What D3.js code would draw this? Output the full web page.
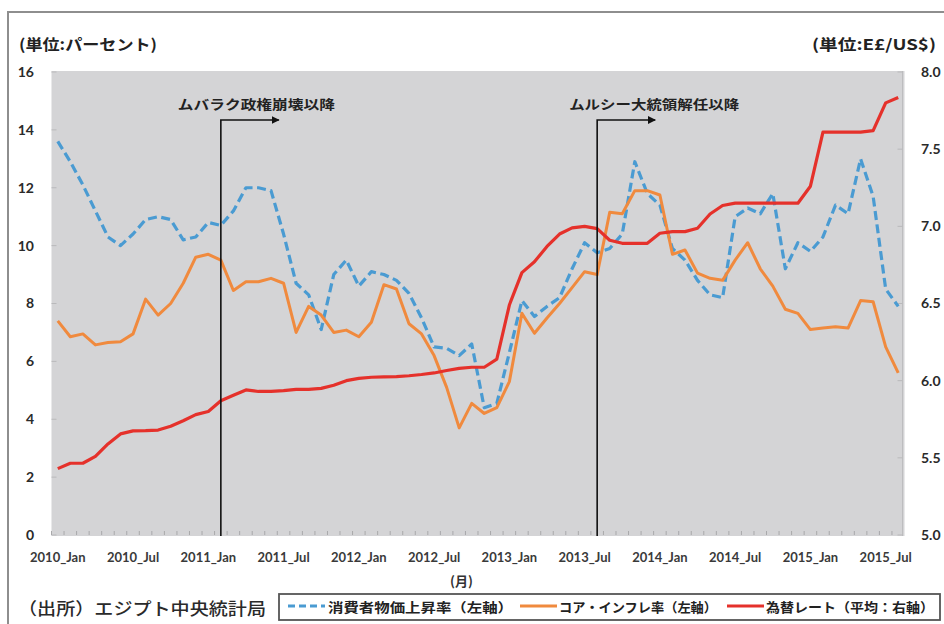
<!DOCTYPE html>
<html>
<head>
<meta charset="utf-8">
<script src="https://cdn.jsdelivr.net/npm/d3@7"></script>
<style>
  html, body { margin: 0; padding: 0; background: #ffffff; }
  svg { display: block; }
  .num { font-family: Lato, "Open Sans", "Liberation Sans", sans-serif; font-weight: 700; }
  .jp { font-family: "Noto Sans CJK JP", "Noto Sans", sans-serif; }
</style>
</head>
<body>
<svg id="chart" width="944" height="624"></svg>
<script>
// Monthly observations, January 2010 to August 2015
const years = [2010, 2011, 2012, 2013, 2014, 2015];
const monthNames = ["Jan","Feb","Mar","Apr","May","Jun","Jul","Aug","Sep","Oct","Nov","Dec"];
const months = [];
years.forEach(y => monthNames.forEach(m => months.push(y + "_" + m)));
months.length = 68; // series end in 2015_Aug

// Headline CPI inflation, % y/y (left axis)
const cpi = [
  13.6, 12.9, 12.1, 11.2, 10.3, 10.0, 10.4, 10.9, 11.0, 10.9, 10.2, 10.3,
  10.8, 10.7, 11.2, 12.0, 12.0, 11.9, 10.4, 8.7, 8.3, 7.1, 9.0, 9.5,
  8.6, 9.1, 9.0, 8.8, 8.35, 7.5, 6.5, 6.45, 6.2, 6.6, 4.4, 4.55,
  6.3, 8.1, 7.55, 7.9, 8.2, 9.2, 10.1, 9.75, 9.9, 10.4, 12.9, 11.8,
  11.4, 9.9, 9.5, 8.8, 8.3, 8.2, 11.0, 11.3, 11.1, 11.8, 9.2, 10.1,
  9.8, 10.3, 11.4, 11.1, 13.0, 11.7, 8.5, 7.9
];

// Core inflation, % y/y (left axis)
const core = [
  7.4, 6.85, 6.95, 6.57, 6.65, 6.68, 6.95, 8.15, 7.6, 8.0, 8.7, 9.6,
  9.7, 9.5, 8.45, 8.75, 8.75, 8.87, 8.7, 7.0, 7.9, 7.6, 7.0, 7.08,
  6.85, 7.35, 8.65, 8.5, 7.3, 6.95, 6.2, 5.1, 3.7, 4.55, 4.2, 4.4,
  5.3, 7.66, 6.97, 7.5, 8.0, 8.55, 9.1, 9.0, 11.15, 11.1, 11.9, 11.9,
  11.75, 9.7, 9.85, 9.05, 8.87, 8.8, 9.5, 10.1, 9.2, 8.6, 7.8, 7.66,
  7.1, 7.15, 7.2, 7.15, 8.1, 8.06, 6.5, 5.6
];

// Average exchange rate, E£ per US$ (right axis)
const fx = [
  5.43, 5.465, 5.465, 5.51, 5.59, 5.655, 5.675, 5.676, 5.68, 5.705, 5.74, 5.78,
  5.80, 5.87, 5.905, 5.94, 5.93, 5.93, 5.935, 5.944, 5.944, 5.95, 5.97, 6.0,
  6.015, 6.022, 6.025, 6.026, 6.032, 6.04, 6.05, 6.066, 6.08, 6.087, 6.087, 6.139,
  6.49, 6.7, 6.77, 6.87, 6.95, 6.99, 7.0, 6.985, 6.91, 6.89, 6.89, 6.89,
  6.955, 6.966, 6.966, 6.988, 7.08, 7.135, 7.15, 7.15, 7.15, 7.15, 7.15, 7.15,
  7.26, 7.61, 7.61, 7.61, 7.61, 7.62, 7.80, 7.835
];

const xTickLabels = ["2010_Jan","2010_Jul","2011_Jan","2011_Jul","2012_Jan","2012_Jul",
                     "2013_Jan","2013_Jul","2014_Jan","2014_Jul","2015_Jan","2015_Jul"];
const leftTicks = [0, 2, 4, 6, 8, 10, 12, 14, 16];
const rightTicks = [5.0, 5.5, 6.0, 6.5, 7.0, 7.5, 8.0];

const events = [
  { month: "2011_Feb", label: "ムバラク政権崩壊以降" },
  { month: "2013_Aug", label: "ムルシー大統領解任以降" }
];

const legendItems = [
  { label: "消費者物価上昇率（左軸）", color: "#4a9bd2", dash: "7,4" },
  { label: "コア・インフレ率（左軸）", color: "#f08a3e", dash: null },
  { label: "為替レート（平均：右軸）", color: "#e5312b", dash: null }
];

// ---- layout ----
const svg = d3.select("#chart");
const plot = { left: 51.5, right: 904.5, top: 71, bottom: 536 };

const x = d3.scaleBand().domain(months).range([plot.left, plot.right]).paddingInner(0).paddingOuter(0);
const xc = m => x(m) + x.bandwidth() / 2;
const yL = d3.scaleLinear().domain([0, 16]).range([535, 72]);
const yR = d3.scaleLinear().domain([5, 8]).range([535, 72]);

// outer frame
svg.append("rect")
  .attr("x", 8).attr("y", 12).attr("width", 960).attr("height", 640)
  .attr("fill", "none").attr("stroke", "#8e8e8e").attr("stroke-width", 2);

// plot background
svg.append("rect")
  .attr("x", plot.left).attr("y", plot.top)
  .attr("width", plot.right - plot.left).attr("height", plot.bottom - plot.top)
  .attr("fill", "#d4d4d6");

// unit captions
svg.append("text").attr("class", "jp")
  .attr("x", 19).attr("y", 43).attr("dominant-baseline", "central")
  .attr("font-size", 15).attr("font-weight", 700).attr("fill", "#222")
  .attr("textLength", 138).attr("lengthAdjust", "spacingAndGlyphs")
  .text("(単位:パーセント)");
svg.append("text").attr("class", "jp")
  .attr("x", 812).attr("y", 43).attr("dominant-baseline", "central")
  .attr("font-size", 15).attr("font-weight", 700).attr("fill", "#222")
  .attr("textLength", 124).attr("lengthAdjust", "spacingAndGlyphs")
  .text("(単位:E£/US$)");

// left axis
const axL = d3.axisLeft(yL).tickValues(leftTicks).tickSize(0).tickPadding(0).tickFormat(d3.format("d"));
const gL = svg.append("g").attr("transform", "translate(34,0)").call(axL);
gL.select(".domain").remove();
gL.selectAll("text").attr("class", "num").attr("font-size", 14).attr("fill", "#2a2a2a");
// small inner ticks on left edge
svg.append("g").selectAll("line").data(leftTicks).join("line")
  .attr("x1", plot.left).attr("x2", plot.left + 5)
  .attr("y1", d => yL(d)).attr("y2", d => yL(d))
  .attr("stroke", "#b9b9bb").attr("stroke-width", 1);

// right axis
const axR = d3.axisRight(yR).tickValues(rightTicks).tickSize(0).tickPadding(0).tickFormat(d3.format(".1f"));
const gR = svg.append("g").attr("transform", "translate(921,0)").call(axR);
gR.select(".domain").remove();
gR.selectAll("text").attr("class", "num").attr("font-size", 14).attr("fill", "#2a2a2a");
svg.append("line")
  .attr("x1", plot.right - 2).attr("x2", plot.right - 2)
  .attr("y1", plot.top).attr("y2", plot.bottom)
  .attr("stroke", "#bdbdbf").attr("stroke-width", 1);
svg.append("g").selectAll("line").data(rightTicks).join("line")
  .attr("x1", plot.right - 7).attr("x2", plot.right - 2)
  .attr("y1", d => yR(d)).attr("y2", d => yR(d))
  .attr("stroke", "#b9b9bb").attr("stroke-width", 1);

// bottom axis: category ticks and labels
svg.append("g").selectAll("line").data(months).join("line")
  .attr("x1", d => x(d)).attr("x2", d => x(d))
  .attr("y1", 531).attr("y2", 535)
  .attr("stroke", "#a9a9ab").attr("stroke-width", 1);
const axB = d3.axisBottom(x).tickValues(xTickLabels).tickSize(0).tickPadding(0);
const gB = svg.append("g").attr("transform", "translate(0,551)").call(axB);
gB.select(".domain").remove();
gB.selectAll("text").attr("class", "num").attr("font-size", 13).attr("fill", "#3a3a3a")
  .attr("dy", "0.35em").attr("y", 6);

svg.append("text").attr("class", "jp")
  .attr("x", 450).attr("y", 580).attr("dominant-baseline", "central")
  .attr("font-size", 13).attr("font-weight", 700).attr("fill", "#333")
  .text("(月)");

// series lines
const lineL = d3.line().x((d, i) => xc(months[i])).y(d => yL(d));
const lineR = d3.line().x((d, i) => xc(months[i])).y(d => yR(d));

svg.append("path").datum(cpi).attr("d", lineL)
  .attr("fill", "none").attr("stroke", legendItems[0].color).attr("stroke-width", 3.2)
  .attr("stroke-dasharray", "9,4.5").attr("stroke-linejoin", "round");
svg.append("path").datum(core).attr("d", lineL)
  .attr("fill", "none").attr("stroke", legendItems[1].color).attr("stroke-width", 3)
  .attr("stroke-linejoin", "round");
svg.append("path").datum(fx).attr("d", lineR)
  .attr("fill", "none").attr("stroke", legendItems[2].color).attr("stroke-width", 3.2)
  .attr("stroke-linejoin", "round");

// event markers with arrows
svg.append("defs").append("marker")
  .attr("id", "arrow").attr("viewBox", "0 0 10 10").attr("refX", 9).attr("refY", 5)
  .attr("markerWidth", 5).attr("markerHeight", 5).attr("orient", "auto")
  .append("path").attr("d", "M0,0 L10,5 L0,10 Z").attr("fill", "#111");

const annTextPos = [{ dx: -43, w: 157 }, { dx: -28, w: 170 }];
events.forEach((e, k) => {
  const ex = xc(e.month);
  svg.append("path")
    .attr("d", `M${ex},${plot.bottom} L${ex},120 L${ex + 58},120`)
    .attr("fill", "none").attr("stroke", "#111").attr("stroke-width", 1.6)
    .attr("marker-end", "url(#arrow)");
  svg.append("text").attr("class", "jp")
    .attr("x", ex + annTextPos[k].dx).attr("y", 103).attr("dominant-baseline", "central")
    .attr("font-size", 13).attr("font-weight", 700).attr("fill", "#222")
    .attr("textLength", annTextPos[k].w).attr("lengthAdjust", "spacingAndGlyphs")
    .text(e.label);
});

// source note
svg.append("text").attr("class", "jp")
  .attr("x", 18).attr("y", 607).attr("dominant-baseline", "central")
  .attr("font-size", 17).attr("font-weight", 500).attr("fill", "#2a2a2a")
  .attr("textLength", 248).attr("lengthAdjust", "spacingAndGlyphs")
  .text("（出所）エジプト中央統計局");

// legend
svg.append("rect")
  .attr("x", 279).attr("y", 594).attr("width", 661).attr("height", 26)
  .attr("fill", "#fff").attr("stroke", "#555").attr("stroke-width", 1.8);
const legPos = [
  { x0: 288, x1: 325, tx: 328, tw: 185 },
  { x0: 520, x1: 557, tx: 559, tw: 158 },
  { x0: 727, x1: 764, tx: 766, tw: 168 }
];
legendItems.forEach((it, k) => {
  const p = legPos[k];
  svg.append("line").attr("x1", p.x0).attr("x2", p.x1).attr("y1", 606).attr("y2", 606)
    .attr("stroke", it.color).attr("stroke-width", 3)
    .attr("stroke-dasharray", it.dash);
  svg.append("text").attr("class", "jp")
    .attr("x", p.tx).attr("y", 606).attr("dominant-baseline", "central")
    .attr("font-size", 13).attr("font-weight", 700).attr("fill", "#222")
    .attr("textLength", p.tw).attr("lengthAdjust", "spacingAndGlyphs")
    .text(it.label);
});
</script>
</body>
</html>
